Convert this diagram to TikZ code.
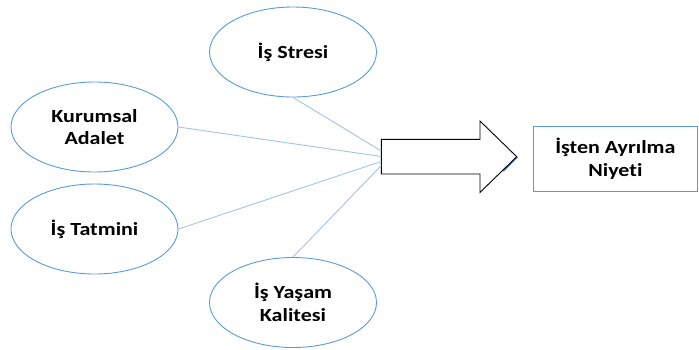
\documentclass[tikz,border=0pt]{standalone}
\usepackage{fontspec}
\setmainfont{Carlito}[FakeStretch=1.19, Ligatures=NoCommon]
\usetikzlibrary{shapes.geometric}
\definecolor{ovalblue}{RGB}{91,155,213}
\definecolor{linkblue}{RGB}{160,196,230}
\definecolor{shadeblue}{RGB}{68,114,196}
\begin{document}
\begin{tikzpicture}[x=1pt,y=-1pt,
  labeltext/.style={align=center, font=\fontsize{18.5}{22.5}\selectfont\bfseries},
  factor/.style={labeltext, ellipse, draw=ovalblue, line width=0.9pt,
    minimum width=167pt, minimum height=90pt, inner sep=0pt},
  outcome/.style={labeltext, rectangle, draw=ovalblue, line width=1pt,
    minimum width=164pt, minimum height=65pt, inner sep=0pt},
  link/.style={draw=linkblue, line width=0.9pt},
  bigarrow/.style={draw=black, fill=white, line width=0.9pt, line join=miter}]
\useasboundingbox (0,0) rectangle (699,349);

% factor ellipses
\node[factor] (stres)  at (293,52)    {İş Stresi};
\node[factor] (adalet) at (94.5,127)  {Kurumsal\\Adalet};
\node[factor] (tatmin) at (94.5,229)  {İş Tatmini};
\node[factor] (yasam)  at (293,302.5) {İş Yaşam\\Kalitesi};

% outcome box
\node[outcome] (niyet) at (615.4,158.5) {İşten Ayrılma\\Niyeti};

% block arrow
\coordinate (tip) at (516.7,156.7);
\fill[shadeblue] (tip) -- ++(1.2,0.8) -- ++(-14,14) -- ++(-1.5,-0.5) -- cycle;
\draw[bigarrow] (381.3,139.3) -- (480,139.3) -- (480,121) -- (tip)
  -- (480,192.4) -- (480,174) -- (381.3,174) -- cycle;

% meeting points on the arrow tail
\coordinate (m1) at (381.3,151);
\coordinate (m2) at (381.3,156.5);
\coordinate (m3) at (381.3,161.5);
\coordinate (m4) at (381.3,165.5);

% connectors
\draw[link] (stres.south) -- (m1);
\draw[link] (adalet.east) -- (m2);
\draw[link] (tatmin.east) -- (m3);
\draw[link] (yasam.north) -- (m4);
\end{tikzpicture}
\end{document}
